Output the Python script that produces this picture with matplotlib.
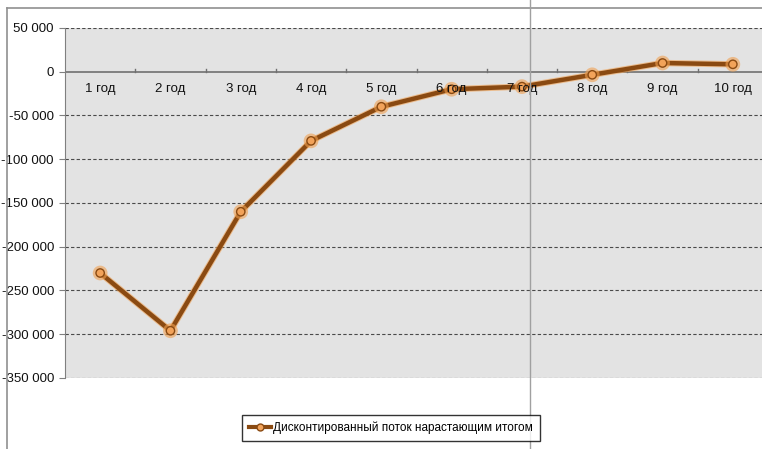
import matplotlib.pyplot as plt
from matplotlib.lines import Line2D
import matplotlib.patheffects as pe

# Cumulative discounted cash flow by year
years = ['1 год', '2 год', '3 год', '4 год', '5 год',
         '6 год', '7 год', '8 год', '9 год', '10 год']
cum_flow = [-230000, -296000, -160000, -79000, -40000,
            -20000, -17000, -3500, 10000, 8500]
y_ticks = [50000, 0, -50000, -100000, -150000, -200000, -250000, -300000, -350000]
series_name = 'Дисконтированный поток нарастающим итогом'

plt.rcParams['font.family'] = ['Liberation Sans Narrow', 'Liberation Sans', 'DejaVu Sans']

line_color = '#8a4a12'
glow_color = '#f0a050'
marker_face = '#f2a35a'

fig = plt.figure(figsize=(7.62, 4.49), dpi=100)
ax = fig.add_axes([65 / 762, 1 - 378 / 449, 703 / 762, 350 / 449])
ax.set_facecolor('#e3e3e3')

x = list(range(len(years)))
ax.plot(x, cum_flow, color=line_color, linewidth=3.2, zorder=3,
        marker='o', markersize=6, markerfacecolor=marker_face,
        markeredgecolor=line_color, markeredgewidth=1.0,
        path_effects=[pe.Stroke(linewidth=4.6, foreground=glow_color, alpha=0.6), pe.Normal()])

ax.set_xlim(-0.5, len(years) - 0.5)
ax.set_ylim(-350000, 50000)
ax.set_yticks(y_ticks)
ax.set_yticklabels([f'{v:,}'.replace(',', ' ') for v in y_ticks], fontsize=9.5)
ax.tick_params(axis='y', length=4, color='#808080', pad=4, labelcolor='#111111')
ax.set_xticks([])

# dashed grid, zero line solid
for v in y_ticks:
    if v == 0:
        continue
    ax.axhline(v, color='#4a4a4a', linestyle=(0, (3, 2)), linewidth=0.8, zorder=1)
ax.axhline(0, color='#707070', linewidth=1.2, zorder=2)
for b in range(1, len(years)):
    ax.plot([b - 0.5, b - 0.5], [0, 3500], color='#707070', linewidth=1, zorder=2)

# category labels just below the zero line
for i, lab in enumerate(years):
    ax.text(i, -20000, lab, ha='center', va='center', fontsize=9.5,
            color='#111111', zorder=4)

for s in ['top', 'right', 'bottom']:
    ax.spines[s].set_visible(False)
ax.spines['left'].set_color('#808080')

# outer chart frame and divider
fig.add_artist(Line2D([7 / 762, 7 / 762], [0, 1 - 8 / 449], color='#909090', linewidth=1.2))
fig.add_artist(Line2D([7 / 762, 1], [1 - 8 / 449, 1 - 8 / 449], color='#909090', linewidth=1.2))
fig.add_artist(Line2D([530 / 762, 530 / 762], [0, 1], color='#a0a0a0', linewidth=1))

handle = Line2D([], [], color=line_color, linewidth=3, marker='o', markersize=5,
                markerfacecolor=marker_face, markeredgecolor=line_color)
leg = fig.legend([handle], [series_name], loc='center',
                 bbox_to_anchor=(391 / 762, 1 - 428 / 449), fontsize=8.5,
                 frameon=True, fancybox=False, edgecolor='black',
                 handlelength=1.8, handletextpad=0.2, borderpad=0.6,
                 borderaxespad=0)
leg.get_frame().set_linewidth(1.0)

fig.savefig('out.png', dpi=100)
